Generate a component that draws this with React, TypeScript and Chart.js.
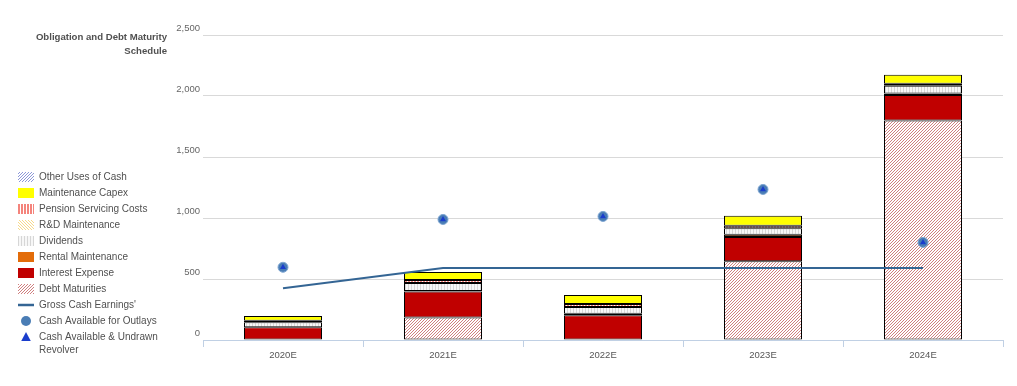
import React, { useEffect, useRef } from 'react';
import { Chart, registerables } from 'chart.js';

Chart.register(...registerables);

const categories = ['2020E', '2021E', '2022E', '2023E', '2024E'];
const debtMaturities = [0, 185, 0, 645, 1800];
const interestExpense = [105, 212, 202, 199, 209];
const rentalMaintenance = [0, 5, 14, 18, 11];
const dividends = [40, 65, 54, 54, 65];
const rdMaintenance = [0, 0, 0, 0, 0];
const pensionServicing = [12, 25, 25, 20, 16];
const maintenanceCapex = [40, 65, 74, 82, 74];
const otherUses = [0, 0, 0, 0, 0];
const grossCashEarnings = [425, 590, 590, 590, 590];
const cashAvailable = [596, 988, 1013, 1234, 800];
const cashAndRevolver = [596, 988, 1013, 1234, 800];
const yTicks = [0, 500, 1000, 1500, 2000, 2500];
const titleLines = ['Obligation and Debt Maturity', 'Schedule'];

const FONT = "'Liberation Sans', Arial, sans-serif";

function diagPattern(color: string, bg: string, size: number, dir: 'up' | 'down') {
  const c = document.createElement('canvas');
  c.width = size;
  c.height = size;
  const g = c.getContext('2d')!;
  g.fillStyle = bg;
  g.fillRect(0, 0, size, size);
  g.fillStyle = color;
  for (let i = 0; i < size; i++) {
    const y = dir === 'up' ? size - 1 - i : i;
    g.fillRect(i, y, 1, 1);
  }
  return g.createPattern(c, 'repeat')!;
}

function stripePattern(color: string, bg: string, width: number, stripe: number) {
  const c = document.createElement('canvas');
  c.width = width;
  c.height = 1;
  const g = c.getContext('2d')!;
  g.fillStyle = bg;
  g.fillRect(0, 0, width, 1);
  g.fillStyle = color;
  g.fillRect(0, 0, stripe, 1);
  return g.createPattern(c, 'repeat')!;
}

const legendOrder = [
  'Other Uses of Cash',
  'Maintenance Capex',
  'Pension Servicing Costs',
  'R&D Maintenance',
  'Dividends',
  'Rental Maintenance',
  'Interest Expense',
  'Debt Maturities',
  "Gross Cash Earnings'",
  'Cash Available for Outlays',
  'Cash Available & Undrawn Revolver',
];

const customPlugin = {
  id: 'customLegendTitle',
  afterDraw(chart: any) {
    const ctx = chart.ctx as CanvasRenderingContext2D;
    ctx.save();
    // Title
    ctx.font = `bold 9.6px ${FONT}`;
    ctx.fillStyle = '#505050';
    ctx.textAlign = 'right';
    ctx.textBaseline = 'middle';
    titleLines.forEach((t, i) => ctx.fillText(t, 167, 37 + i * 14));

    // Legend
    const ds = chart.data.datasets as any[];
    legendOrder.forEach((label, i) => {
      const d = ds.find((x) => x.label === label);
      if (!d) return;
      const y = 177 + i * 16;
      if (d.type === 'bar') {
        ctx.fillStyle = d.backgroundColor;
        ctx.fillRect(18, y - 5, 16, 10);
      } else if (d.showLine === false) {
        ctx.fillStyle = d.pointBackgroundColor;
        ctx.beginPath();
        if (d.pointStyle === 'triangle') {
          const r = 5;
          ctx.moveTo(26, y - r);
          ctx.lineTo(26 + r * 0.95, y + r * 0.8);
          ctx.lineTo(26 - r * 0.95, y + r * 0.8);
          ctx.closePath();
        } else {
          ctx.arc(26, y, 5, 0, Math.PI * 2);
        }
        ctx.fill();
      } else {
        ctx.strokeStyle = d.borderColor;
        ctx.lineWidth = 2.5;
        ctx.beginPath();
        ctx.moveTo(18, y);
        ctx.lineTo(34, y);
        ctx.stroke();
      }
      ctx.font = `10px ${FONT}`;
      ctx.fillStyle = '#505050';
      ctx.textAlign = 'left';
      ctx.textBaseline = 'middle';
      if (label === 'Cash Available & Undrawn Revolver') {
        ctx.fillText('Cash Available & Undrawn', 39, y);
        ctx.fillText('Revolver', 39, y + 13);
      } else {
        ctx.fillText(label, 39, y);
      }
    });
    ctx.restore();
  },
};

export default function App() {
  const ref = useRef<HTMLCanvasElement>(null);

  useEffect(() => {
    document.body.style.margin = '0';
    const canvas = ref.current!;
    const barBase = {
      type: 'bar' as const,
      stack: 'bars',
      borderColor: '#000',
      borderWidth: 1,
      borderSkipped: false,
      barPercentage: 0.4875,
      categoryPercentage: 1,
      order: 10,
    };
    const chart = new Chart(canvas, {
      type: 'bar',
      data: {
        labels: categories,
        datasets: [
          { ...barBase, label: 'Debt Maturities', data: debtMaturities, backgroundColor: diagPattern('#cf7f7f', '#ffffff', 3, 'up') },
          { ...barBase, label: 'Interest Expense', data: interestExpense, backgroundColor: '#c00000' },
          { ...barBase, label: 'Rental Maintenance', data: rentalMaintenance, backgroundColor: '#e36c09' },
          { ...barBase, label: 'Dividends', data: dividends, backgroundColor: stripePattern('#d6d6d6', '#f7f7f7', 3, 1) },
          { ...barBase, label: 'R&D Maintenance', data: rdMaintenance, backgroundColor: diagPattern('#f7d98a', '#ffffff', 3, 'down') },
          { ...barBase, label: 'Pension Servicing Costs', data: pensionServicing, backgroundColor: stripePattern('#f4847c', '#ffffff', 3, 2) },
          { ...barBase, label: 'Maintenance Capex', data: maintenanceCapex, backgroundColor: '#ffff00' },
          { ...barBase, label: 'Other Uses of Cash', data: otherUses, backgroundColor: diagPattern('#8d98d8', '#ffffff', 3, 'up') },
          {
            type: 'line',
            label: "Gross Cash Earnings'",
            stack: 'gce',
            data: grossCashEarnings,
            borderColor: '#346594',
            backgroundColor: '#346594',
            borderWidth: 2,
            pointRadius: 0,
            fill: false,
            tension: 0,
            order: 1,
          } as any,
          {
            type: 'line',
            label: 'Cash Available for Outlays',
            stack: 'cao',
            data: cashAvailable,
            showLine: false,
            pointStyle: 'circle',
            pointRadius: 5,
            pointBackgroundColor: '#4a7db5',
            pointBorderColor: '#7fa6d2',
            pointBorderWidth: 1,
            order: 0,
          } as any,
          {
            type: 'line',
            label: 'Cash Available & Undrawn Revolver',
            stack: 'cau',
            data: cashAndRevolver,
            showLine: false,
            pointStyle: 'triangle',
            pointRadius: 3.5,
            pointBackgroundColor: '#1a3dcc',
            pointBorderColor: '#1a3dcc',
            pointBorderWidth: 0,
            order: -1,
          } as any,
        ],
      },
      options: {
        responsive: false,
        animation: false,
        devicePixelRatio: 1,
        layout: { padding: { left: 0, right: 14, top: 35, bottom: 0 } },
        plugins: {
          legend: { display: false },
          tooltip: { enabled: false },
          title: { display: false },
        },
        scales: {
          x: {
            stacked: true,
            afterFit: (s: any) => {
              s.height = 46;
            },
            grid: {
              offset: true,
              drawOnChartArea: false,
              drawTicks: true,
              tickLength: 7,
              color: '#c0d0e4',
            },
            border: { display: true, color: '#c0d0e4', width: 1 },
            ticks: {
              font: { family: FONT, size: 9.5 },
              color: '#555',
              padding: 3,
            },
          },
          y: {
            stacked: true,
            min: yTicks[0],
            max: yTicks[yTicks.length - 1],
            afterFit: (s: any) => {
              s.width = 203;
            },
            afterBuildTicks: (s: any) => {
              s.ticks = yTicks.map((v) => ({ value: v }));
            },
            grid: { color: '#d9d9d9', drawTicks: false },
            border: { display: false },
            ticks: {
              font: { family: FONT, size: 9.5 },
              color: '#666',
              padding: 3,
              labelOffset: -7,
              callback: (v: any) => Number(v).toLocaleString('en-US'),
            },
          },
        },
      },
      plugins: [customPlugin],
    } as any);
    return () => chart.destroy();
  }, []);

  return (
    <div style={{ width: 1017, height: 386 }}>
      <canvas ref={ref} width={1017} height={386} style={{ display: 'block' }} />
    </div>
  );
}
